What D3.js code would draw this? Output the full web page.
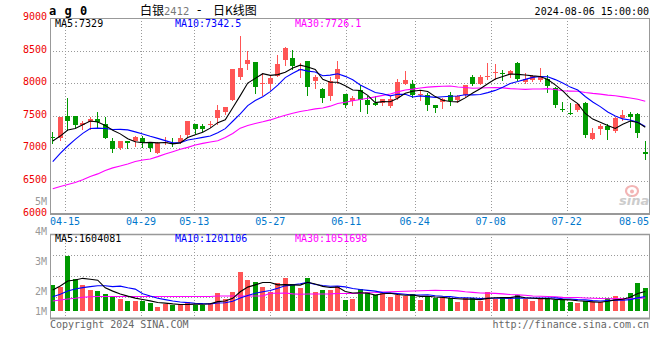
<!DOCTYPE html>
<html><head><meta charset="utf-8">
<script src="https://cdn.jsdelivr.net/npm/d3@7/dist/d3.min.js"></script>
<style>
body{margin:0;background:#fff}
svg{display:block}
text{font-family:"DejaVu Sans Mono",monospace;font-size:10px}
</style>
</head><body>
<svg id="chart" width="660" height="360"></svg>
<script>
// ---------- DATA ----------
const dates = ["04-11","04-12","04-15","04-16","04-17","04-18","04-19","04-22","04-23","04-24","04-25","04-26","04-29","04-30",
"05-06","05-07","05-08","05-09","05-10","05-13","05-14","05-15","05-16","05-17","05-20","05-21","05-22","05-23","05-24","05-27","05-28","05-29","05-30","05-31",
"06-03","06-04","06-05","06-06","06-07","06-11","06-12","06-13","06-14","06-17","06-18","06-19","06-20","06-21","06-24","06-25","06-26","06-27","06-28",
"07-01","07-02","07-03","07-04","07-05","07-08","07-09","07-10","07-11","07-12","07-15","07-16","07-17","07-18","07-19","07-22","07-23","07-24","07-25","07-26","07-29","07-30","07-31",
"08-01","08-02","08-05","08-06"];
const open  = [7168,7153,7493,7493,7356,7402,7453,7381,7112,7010,7112,7112,7158,7076,6924,7076,7086,7097,7204,7371,
               7341,7356,7468,7560,7748,8094,8297,8323,7992,7992,8114,8358,8389,8206,8333,8028,7905,7799,8068,7839,
               7727,7900,7748,7702,7697,7651,7778,7982,7992,7814,7824,7661,7712,7824,7738,7814,8094,7982,8094,8160,
               8160,8145,8312,8017,8043,8043,8068,7931,7610,7544,7585,7697,7142,7290,7346,7270,7458,7534,7534,6939];
const high  = [7254,7483,7778,7493,7417,7483,7560,7483,7153,7112,7112,7188,7188,7097,7097,7178,7153,7204,7417,7381,
               7371,7412,7661,7641,8211,8730,8501,8323,8155,8119,8435,8552,8511,8307,8333,8119,7931,8094,8333,7839,
               7799,7966,7799,7799,7763,7799,8058,8180,8043,7890,7850,7661,7778,7865,7814,7966,8119,8119,8307,8290,
               8195,8206,8323,8155,8119,8231,8119,7941,7707,7697,7697,7712,7305,7381,7381,7483,7585,7560,7544,7112];
const low   = [7076,7127,7280,7320,7290,7295,7330,7158,6949,6995,7000,7036,7025,6964,6924,7061,7036,7086,7188,7239,
               7265,7320,7381,7534,7738,8068,8221,7855,7814,7905,8114,8272,8221,8094,7814,7926,7707,7738,8002,7636,
               7661,7575,7544,7661,7661,7636,7763,7982,7789,7748,7585,7560,7621,7661,7712,7799,7966,7982,8068,8060,
               8043,8094,8043,8002,8033,8033,7865,7636,7570,7524,7570,7178,7142,7219,7137,7254,7432,7320,7178,6832];
const close = [7158,7483,7417,7356,7392,7453,7402,7158,6985,7112,7076,7173,7086,7010,7076,7102,7066,7163,7417,7295,
               7295,7381,7585,7641,8211,8226,8348,7941,8002,8079,8287,8536,8262,8221,7941,8094,7778,8033,8221,7671,
               7773,7738,7661,7661,7753,7763,8012,8043,7814,7829,7661,7621,7763,7722,7799,7966,7992,8094,8104,8170,
               8145,8185,8068,8058,8104,8094,7956,7661,7595,7529,7687,7203,7229,7346,7280,7468,7519,7483,7239,6913];
const volume = [2.15e6,2.00e6,4.55e6,2.64e6,2.15e6,1.74e6,1.65e6,1.40e6,1.27e6,0.99e6,
                0.83e6,0.83e6,0.83e6,0.69e6,0.36e6,0.55e6,0.50e6,0.58e6,0.72e6,0.50e6,
                0.50e6,0.69e6,1.46e6,0.96e6,1.60e6,3.25e6,2.60e6,2.37e6,1.98e6,1.54e6,
                2.29e6,2.73e6,2.23e6,1.90e6,2.73e6,1.57e6,1.74e6,1.74e6,2.07e6,0.91e6,
                0.99e6,1.82e6,1.54e6,1.32e6,1.46e6,1.18e6,1.32e6,1.24e6,1.40e6,0.91e6,
                1.21e6,1.05e6,1.05e6,1.05e6,0.72e6,1.05e6,1.05e6,0.83e6,1.57e6,0.99e6,
                1.16e6,0.99e6,1.32e6,0.99e6,0.83e6,0.99e6,1.05e6,0.94e6,0.88e6,0.72e6,
                0.66e6,0.80e6,0.72e6,0.72e6,1.10e6,1.24e6,1.10e6,1.49e6,2.31e6,1.90e6];
// moving-average values before the window is full (they depend on earlier sessions)
const ma5Head  = [7112,7188,7280,7305];
const ma10Head = [6797,6924,7036,7137,7229,7305,7310,7305,7290];
const ma30Head = [6379,6415,6445,6476,6517,6568,6608,6659,6700,6730,6761,6797,6822,6837,6873,6913,6949,6985,7015,7051,
                  7076,7097,7117,7168,7229,7310,7350,7381,7407];
const vma5Head  = [1.74e6,2.07e6,2.48e6,2.56e6];
const vma10Head = [1.18e6,1.38e6,1.65e6,1.82e6,1.93e6,2.01e6,2.09e6,2.09e6,2.01e6];
const vma30Head = [0.83e6,0.91e6,0.99e6,1.05e6,1.13e6,1.18e6,1.20e6,1.20e6,1.20e6,1.20e6,1.20e6,1.20e6,1.20e6,1.20e6,1.20e6,
                   1.20e6,1.20e6,1.20e6,1.20e6,1.20e6,1.20e6,1.20e6,1.24e6,1.24e6,1.24e6,1.24e6,1.24e6,1.24e6,1.24e6];
const tickDates = ["04-15","04-29","05-13","05-27","06-11","06-24","07-08","07-22","08-05"];
const gridDates = ["04-15","04-29","05-13","05-27","06-11","06-24","07-08","07-22"];
const priceTicks = [9000,8500,8000,7500,7000,6500,6000];
const volTicks = [5e6,4e6,3e6,2e6,1e6];
const volTickLabels = ["5M","4M","3M","2M","1M"];
const priceLegend = ["MA5:7329","MA10:7342.5","MA30:7726.1"];
const volLegend = ["MA5:1604081","MA10:1201106","MA30:1051698"];
const titleCode = "ag0";
const titleName = "白银", titleNum = "2412", titleDash = "-", titleKind = "日K线图";
const stamp = "2024-08-06 15:00:00";
const footLeft = "Copyright 2024 SINA.COM", footRight = "http://finance.sina.com.cn";

// ---------- LAYOUT ----------
const svg = d3.select("#chart");
const L = 50, R = 649, mTop = 18, mBot = 213.5, vTop = 234, vBot = 318, vBase = 311;
const RED = "#ff5555", GREEN = "#009900", GRID = "#999", BORDER = "#999";
const colMA = ["#000000","#0000ff","#ff00ff"];

const x = d3.scaleBand().domain(dates).range([49, 649]);
const cx = d => x(d) + x.bandwidth()/2;
const gx = d3.scaleLinear().domain([0, dates.length-1]).range([49.8, 650.2]); // grid/tick positions
const y = d3.scaleLinear().domain([6000, 9000]).range([mBot, mTop]);
const vy = d3.scaleLinear().domain([0, 6.36e6]).range([vBase, vTop]);
const vLab = d3.scaleLinear().domain([1e6, 5e6]).range([321, 201]);

const crisp = v => Math.round(v) + 0.5;

function movingAvg(vals, n, head){
  return vals.map((v,i) => i < n-1 ? head[i] : d3.mean(vals.slice(i-n+1, i+1)));
}
const ma = [movingAvg(close,5,ma5Head), movingAvg(close,10,ma10Head), movingAvg(close,30,ma30Head)];
const vma = [movingAvg(volume,5,vma5Head), movingAvg(volume,10,vma10Head), movingAvg(volume,30,vma30Head)];

const dotted = g => g.attr("stroke", GRID).attr("stroke-width",1).attr("stroke-dasharray","1,2").attr("fill","none");

// ---------- GRIDS ----------
const gGrid = svg.append("g");
priceTicks.filter(t => t > 6000 && t < 9000).forEach(t => {
  gGrid.append("line").attr("x1", L).attr("x2", R).attr("y1", crisp(y(t))).attr("y2", crisp(y(t))).call(dotted);
});
gridDates.forEach(d => {
  const xx = crisp(gx(dates.indexOf(d)));
  gGrid.append("line").attr("x1", xx).attr("x2", xx).attr("y1", mTop).attr("y2", mBot).call(dotted);
  gGrid.append("line").attr("x1", xx).attr("x2", xx).attr("y1", vTop).attr("y2", vBot).call(dotted);
});
[1,2,3].forEach(k => {
  const yy = crisp(vTop + k*(vBot - vTop)/4);
  gGrid.append("line").attr("x1", L).attr("x2", R).attr("y1", yy).attr("y2", yy).call(dotted);
});

// ---------- CANDLES ----------
const idx = d3.range(dates.length);
const gC = svg.append("g");
idx.forEach(i => {
  const up = close[i] > open[i];
  const col = up ? RED : GREEN;
  const bx = Math.round(cx(dates[i]) - 2.5);
  const wx = bx + 2.5;
  gC.append("line").attr("x1", wx).attr("x2", wx)
    .attr("y1", Math.round(y(high[i]))).attr("y2", Math.round(y(low[i])) + 1)
    .attr("stroke", col).attr("stroke-width", 1);
  const yt = Math.round(y(Math.max(open[i], close[i])));
  const yb = Math.round(y(Math.min(open[i], close[i])));
  gC.append("rect").attr("x", bx).attr("y", yt).attr("width", 5).attr("height", Math.max(1, yb - yt))
    .attr("fill", col);
});

// ---------- VOLUME BARS ----------
const gV = svg.append("g");
idx.forEach(i => {
  const up = close[i] > open[i];
  const bx = Math.round(cx(dates[i]) - 2.5);
  const top = Math.round(vy(volume[i]));
  gV.append("rect").attr("x", bx).attr("y", top).attr("width", 5).attr("height", vBase - top)
    .attr("fill", up ? RED : GREEN);
});

// ---------- MA LINES ----------
ma.slice().reverse().forEach((arr, k) => {
  const line = d3.line().x((d,i) => cx(dates[i])).y(d => y(d));
  svg.append("path").attr("d", line(arr)).attr("fill","none").attr("stroke", colMA[2-k]).attr("stroke-width", 1.1);
});
vma.slice().reverse().forEach((arr, k) => {
  const line = d3.line().x((d,i) => cx(dates[i])).y(d => vy(d));
  svg.append("path").attr("d", line(arr)).attr("fill","none").attr("stroke", colMA[2-k]).attr("stroke-width", 1.1);
});

// ---------- BORDERS ----------
const gB = svg.append("g").attr("fill","none").attr("stroke", BORDER);
gB.append("line").attr("x1", L).attr("x2", R+1).attr("y1", mTop+0.5).attr("y2", mTop+0.5);
gB.append("line").attr("x1", L+0.5).attr("x2", L+0.5).attr("y1", mTop).attr("y2", mBot+1);
gB.append("line").attr("x1", R+0.5).attr("x2", R+0.5).attr("y1", mTop).attr("y2", mBot+1);
gB.append("line").attr("x1", L).attr("x2", R+1).attr("y1", mBot+0.5).attr("y2", mBot+0.5).attr("stroke-width", 2);
gB.append("line").attr("x1", L).attr("x2", R+1).attr("y1", vTop+0.5).attr("y2", vTop+0.5).attr("stroke-width", 1.5);
gB.append("line").attr("x1", L+0.5).attr("x2", L+0.5).attr("y1", vTop).attr("y2", vBot+1);
gB.append("line").attr("x1", R+0.5).attr("x2", R+0.5).attr("y1", vTop).attr("y2", vBot+1);
gB.append("line").attr("x1", L).attr("x2", R+1).attr("y1", vBot+0.5).attr("y2", vBot+0.5).attr("stroke-width", 2);

// ---------- WATERMARK ----------
const wm = svg.append("g");
wm.append("ellipse").attr("cx", 632).attr("cy", 191).attr("rx", 6).attr("ry", 5).attr("fill","none").attr("stroke","#f3b5b5").attr("stroke-width",2.2);
wm.append("circle").attr("cx", 632).attr("cy", 191.5).attr("r", 2).attr("fill","#f3b5b5");
wm.append("text").attr("x", 619).attr("y", 205).text("sina")
  .style("font-family","DejaVu Sans").style("font-size","13px").style("font-style","italic").style("font-weight","bold").attr("fill","#cccccc");

// ---------- AXIS LABELS ----------
priceTicks.forEach(t => {
  svg.append("text").attr("x", 47).attr("y", y(t) + 2).attr("text-anchor","end").attr("fill","#ee0000").text(t);
});
volTicks.forEach((v, k) => {
  svg.append("text").attr("x", 47).attr("y", Math.min(vLab(v), 311) + 3.5).attr("text-anchor","end")
    .attr("fill","#999").text(volTickLabels[k]);
});
tickDates.forEach(d => {
  const c = gx(dates.indexOf(d));
  const w = d.length * 6;
  const left = Math.min(c - w/2, R - w);
  svg.append("text").attr("x", left).attr("y", 225).attr("fill","#0077cc").text(d);
});

// ---------- LEGENDS & TITLES ----------
const legX = [55, 175, 295];
priceLegend.forEach((s,k) => svg.append("text").attr("x", legX[k]).attr("y", 27).attr("fill", colMA[k]).text(s));
volLegend.forEach((s,k) => svg.append("text").attr("x", legX[k]).attr("y", 242).attr("fill", colMA[k]).text(s));

svg.append("text").attr("x", 49).attr("y", 15).text(titleCode.split("").join(" "))
  .style("font-size","12px").style("font-weight","bold").attr("fill","#000").style("letter-spacing","0.5px");
const cjk = '"Noto Sans CJK SC","Noto Sans",sans-serif';
svg.append("text").attr("x", 140).attr("y", 15).text(titleName).style("font-family", cjk).style("font-size","12px").attr("fill","#000");
svg.append("text").attr("x", 164).attr("y", 15).text(titleNum).style("font-family","DejaVu Sans").style("font-size","10px").attr("fill","#777");
svg.append("text").attr("x", 197).attr("y", 14).text(titleDash).style("font-family","DejaVu Sans").style("font-size","12px").attr("fill","#000");
svg.append("text").attr("x", 213).attr("y", 15).text(titleKind).style("font-family", cjk).style("font-size","12px").attr("fill","#000");
svg.append("text").attr("x", R).attr("y", 15).attr("text-anchor","end").attr("fill","#000").text(stamp);

svg.append("text").attr("x", 50).attr("y", 328).attr("fill","#666").text(footLeft);
svg.append("text").attr("x", R).attr("y", 328).attr("text-anchor","end").attr("fill","#666").text(footRight);
</script>
</body></html>
